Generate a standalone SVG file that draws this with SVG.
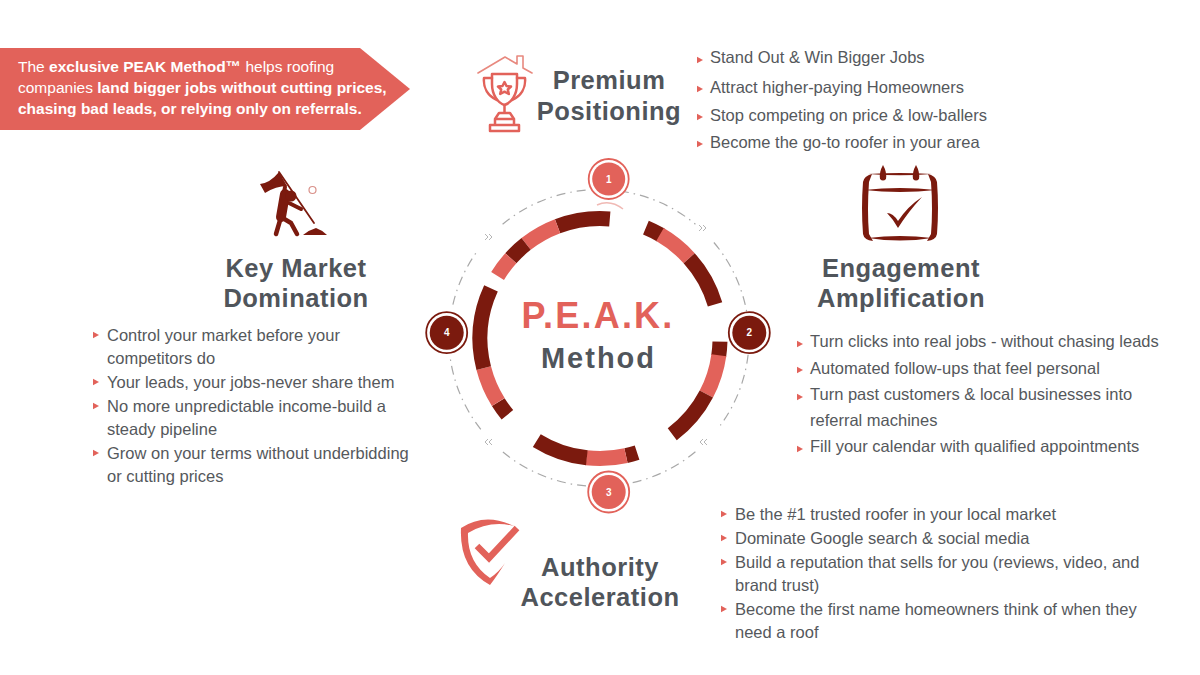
<svg xmlns="http://www.w3.org/2000/svg" width="1200" height="675" viewBox="0 0 1200 675">
<style>
text{font-family:"Liberation Sans",Arial,sans-serif}
.h{font-size:25.500px;font-weight:700;fill:#50555b;text-anchor:middle;letter-spacing:.5px}
.b{font-size:16.500px;fill:#55585c}
.t{fill:#e2625a}
.ban{font-size:15.500px;fill:#fff}
.ban tspan.s{font-weight:700}
.num{font-size:10px;font-weight:700;fill:#fff;text-anchor:middle}
.dk{fill:none;stroke:#7b1a0e;stroke-width:15}
.lt{fill:none;stroke:#e2625a;stroke-width:15}
.dd{fill:none;stroke:#a8a8a8;stroke-width:1.2;stroke-dasharray:9 5 1.5 5}
.ch{fill:none;stroke:#b5b5b5;stroke-width:1}
.ico{fill:none;stroke:#e2625a;stroke-width:2.5;stroke-linejoin:round;stroke-linecap:round}
.man{fill:none;stroke:#7b1a0e;stroke-linecap:round;stroke-linejoin:round}
</style>
<defs>
<path id="tri" class="t" d="M0-3.200L6 0L0 3.200Z"/>
<path id="fw" class="ch" d="M-4-3L-1 0L-4 3M0-3L3 0L0 3"/>
<path id="bk" class="ch" d="M4-3L1 0L4 3M0-3L-3 0L0 3"/>
</defs>
<rect width="1200" height="675" fill="#fff"/>

<g id="banner">
<polygon points="0,48 360,48 410,89 360,130 0,130" fill="#e2625a"/>
<text class="ban" x="18" y="72">The <tspan class="s">exclusive PEAK Method™</tspan> helps roofing</text>
<text class="ban" x="18" y="93">companies <tspan class="s">land bigger jobs without cutting prices,</tspan></text>
<text class="ban" x="18" y="114"><tspan class="s">chasing bad leads, or relying only on referrals.</tspan></text>
</g>

<g id="connectors">
<path class="dd" d="M619.900 191A150 148.500 0 0 1 695.400 224.200"/>
<path class="dd" d="M713.900 242.500A150 148.500 0 0 1 748.200 322.400"/>
<path class="dd" d="M748.100 354.800A150 148.500 0 0 1 720.400 425.300"/>
<path class="dd" d="M695.400 451.800A150 148.500 0 0 1 632.700 482.700"/>
<path class="dd" d="M586 485.900A150 148.500 0 0 1 502.600 451.800"/>
<path class="dd" d="M480.800 429.400A150 148.500 0 0 1 450 356.100"/>
<path class="dd" d="M452.900 304.600A150 148.500 0 0 1 476.100 252.800"/>
<path class="dd" d="M502.600 224.200A150 148.500 0 0 1 589.900 189.800"/>
<use href="#fw" x="703" y="228"/>
<use href="#bk" x="703" y="442"/>
<use href="#bk" x="488" y="442"/>
<use href="#fw" x="489" y="237"/>
</g>

<g id="ring">
<circle class="dk" cx="600" cy="338.500" r="120" pathLength="360" stroke-dasharray="25.400 360" transform="rotate(-110.700 600 338.500)"/>
<circle class="lt" cx="600" cy="338.500" r="120" pathLength="360" stroke-dasharray="17.300 360" transform="rotate(-128 600 338.500)"/>
<circle class="dk" cx="600" cy="338.500" r="120" pathLength="360" stroke-dasharray="10 360" transform="rotate(-138 600 338.500)"/>
<circle class="lt" cx="600" cy="338.500" r="120" pathLength="360" stroke-dasharray="10.600 360" transform="rotate(-148.600 600 338.500)"/>
<circle class="dk" cx="600" cy="338.500" r="120" pathLength="360" stroke-dasharray="8 360" transform="rotate(-67.500 600 338.500)"/>
<circle class="lt" cx="600" cy="338.500" r="120" pathLength="360" stroke-dasharray="18 360" transform="rotate(-60 600 338.500)"/>
<circle class="dk" cx="600" cy="338.500" r="120" pathLength="360" stroke-dasharray="25.500 360" transform="rotate(-42 600 338.500)"/>
<circle class="dk" cx="600" cy="338.500" r="120" pathLength="360" stroke-dasharray="7 360" transform="rotate(1.500 600 338.500)"/>
<circle class="lt" cx="600" cy="338.500" r="120" pathLength="360" stroke-dasharray="19.600 360" transform="rotate(8 600 338.500)"/>
<circle class="dk" cx="600" cy="338.500" r="120" pathLength="360" stroke-dasharray="25.400 360" transform="rotate(27.600 600 338.500)"/>
<circle class="dk" cx="600" cy="338.500" r="120" pathLength="360" stroke-dasharray="5.500 360" transform="rotate(72 600 338.500)"/>
<circle class="lt" cx="600" cy="338.500" r="120" pathLength="360" stroke-dasharray="19 360" transform="rotate(77.500 600 338.500)"/>
<circle class="dk" cx="600" cy="338.500" r="120" pathLength="360" stroke-dasharray="25.500 360" transform="rotate(96.300 600 338.500)"/>
<circle class="dk" cx="600" cy="338.500" r="120" pathLength="360" stroke-dasharray="7.500 360" transform="rotate(140.500 600 338.500)"/>
<circle class="lt" cx="600" cy="338.500" r="120" pathLength="360" stroke-dasharray="17.700 360" transform="rotate(148 600 338.500)"/>
<circle class="dk" cx="600" cy="338.500" r="120" pathLength="360" stroke-dasharray="39 360" transform="rotate(165.700 600 338.500)"/>
<path d="M597 205Q610 199 623 209" fill="none" stroke="#f0b9b4" stroke-width="1.500"/>
</g>

<g id="center-title">
<text x="598" y="328" text-anchor="middle" font-size="36" font-weight="700" fill="#e2625a" letter-spacing="2.200">P.E.A.K.</text>
<text x="598.500" y="368" text-anchor="middle" font-size="29" font-weight="700" fill="#50555b" letter-spacing="2">Method</text>
</g>

<g id="node-1">
<circle cx="608.700" cy="179" r="20" fill="#fff" stroke="#e2625a" stroke-width="1.800"/>
<circle cx="608.700" cy="179" r="16.500" fill="#e2625a"/>
<text class="num" x="608.700" y="182.500">1</text>
</g>
<g id="node-2">
<circle cx="749.300" cy="332.700" r="20.500" fill="#fff" stroke="#7b1a0e" stroke-width="1.800"/>
<circle cx="749.300" cy="332.700" r="17" fill="#7b1a0e"/>
<text class="num" x="749.300" y="336.200">2</text>
</g>
<g id="node-3">
<circle cx="608.700" cy="492" r="20.500" fill="#fff" stroke="#e2625a" stroke-width="1.800"/>
<circle cx="608.700" cy="492" r="17" fill="#e2625a"/>
<text class="num" x="608.700" y="495.500">3</text>
</g>
<g id="node-4">
<circle cx="446.700" cy="332.700" r="20.500" fill="#fff" stroke="#7b1a0e" stroke-width="1.800"/>
<circle cx="446.700" cy="332.700" r="17" fill="#7b1a0e"/>
<text class="num" x="446.700" y="336.200">4</text>
</g>

<g id="premium-positioning">
<g class="ico">
<path d="M478 73L505 57L517 64V56H523V68L532 73" stroke-width="1.600" stroke="#e8897f"/>
<path d="M492 74H517V84C517 95 511 103 504.500 105C498 103 492 95 492 84Z"/>
<path d="M492 78H484C483 88 488 96 497 100M517 78H525C526 88 521 96 512 100"/>
<path d="M504.500 82l2 4 4.500.5-3.200 3 1 4.500-4.300-2.300-4.300 2.300 1-4.500-3.200-3 4.500-.5Z"/>
<path d="M504.500 105V113M499 113H510L514 119H495ZM495 119V125H514V119M490 125H519V131H490Z"/>
</g>
<text class="h" x="609" y="89">Premium</text>
<text class="h" x="609" y="120">Positioning</text>
<use href="#tri" x="697" y="60"/><text class="b" x="710" y="63">Stand Out &amp; Win Bigger Jobs</text>
<use href="#tri" x="697" y="89"/><text class="b" x="710" y="92.500">Attract higher-paying Homeowners</text>
<use href="#tri" x="697" y="117"/><text class="b" x="710" y="120.500">Stop competing on price &amp; low-ballers</text>
<use href="#tri" x="697" y="144"/><text class="b" x="710" y="147.500">Become the go-to roofer in your area</text>
</g>

<g id="engagement-amplification">
<g fill="#7b1a0e">
<path d="M863 182Q864 176 872 174L869 182Q867 210 869 234L873 241Q864 240 863 234Q861 208 863 182Z"/>
<path d="M937 182Q936 176 928 174L931 182Q933 210 931 234L927 241Q936 240 937 234Q939 208 937 182Z"/>
<path d="M868 174Q900 172 932 174Q900 176.500 868 174Z"/>
<path d="M864 190Q900 186 936 190Q900 194 864 190Z"/>
<path d="M868 238Q900 234 932 238Q900 243 868 238Z"/>
<path d="M883 165Q887 172 886 179Q883 182 880 179Q879 172 883 165Z"/>
<path d="M916 165Q920 172 919 179Q916 182 913 179Q912 172 916 165Z"/>
<path d="M887 213Q893 213 898 221Q908 206 922 197Q908 212 898 228Q893 219 887 213Z"/>
</g>
<text class="h" x="901" y="277">Engagement</text>
<text class="h" x="901" y="307">Amplification</text>
<use href="#tri" x="797" y="344"/><text class="b" x="810" y="347">Turn clicks into real jobs - without chasing leads</text>
<use href="#tri" x="797" y="370"/><text class="b" x="810" y="373.500">Automated follow-ups that feel personal</text>
<use href="#tri" x="797" y="397"/><text class="b" x="810" y="400">Turn past customers &amp; local businesses into</text>
<text class="b" x="810" y="426">referral machines</text>
<use href="#tri" x="797" y="449"/><text class="b" x="810" y="452">Fill your calendar with qualified appointments</text>
</g>

<g id="authority-acceleration">
<path d="M461 528Q485 512 514 526Q490 520 468 533Q467 562 490 578Q499 572 505 563Q497 576 490 585Q459 568 461 528Z" fill="#e2625a"/>
<path d="M477 546L489 558L517 528" fill="none" stroke="#e2625a" stroke-width="6.500"/>
<text class="h" x="600" y="576">Authority</text>
<text class="h" x="600" y="606">Acceleration</text>
<use href="#tri" x="721" y="514"/><text class="b" x="735" y="519.500">Be the #1 trusted roofer in your local market</text>
<use href="#tri" x="721" y="538"/><text class="b" x="735" y="543.500">Dominate Google search &amp; social media</text>
<use href="#tri" x="721" y="562"/><text class="b" x="735" y="567.500">Build a reputation that sells for you (reviews, video, and</text>
<text class="b" x="735" y="590.500">brand trust)</text>
<use href="#tri" x="721" y="609"/><text class="b" x="735" y="614.500">Become the first name homeowners think of when they</text>
<text class="b" x="735" y="637.500">need a roof</text>
</g>

<g id="key-market-domination">
<path d="M260 184Q270 183 279 172L287 186Q276 186 265 193Z" fill="#7b1a0e"/>
<path class="man" d="M279 172L314 223" stroke-width="1.800"/>
<path class="man" d="M285 194L281 217" stroke-width="10"/>
<path class="man" d="M281 217L276 234M281 217L291 223L297 234" stroke-width="4.500"/>
<path class="man" d="M285 187L283 198M289 203L301 209" stroke-width="4"/>
<circle cx="291" cy="196" r="5.500" fill="#7b1a0e"/>
<path d="M303 235Q309 230 316 228Q322 230 327 235Z" fill="#7b1a0e"/>
<circle cx="312.500" cy="190" r="3.500" fill="none" stroke="#d9918a" stroke-width="1.200"/>
<text class="h" x="296" y="277">Key Market</text>
<text class="h" x="296" y="307">Domination</text>
<use href="#tri" x="93" y="335"/><text class="b" x="107" y="340.500">Control your market before your</text>
<text class="b" x="107" y="363.500">competitors do</text>
<use href="#tri" x="93" y="382"/><text class="b" x="107" y="387.500">Your leads, your jobs-never share them</text>
<use href="#tri" x="93" y="406"/><text class="b" x="107" y="411.500">No more unpredictable income-build a</text>
<text class="b" x="107" y="434.500">steady pipeline</text>
<use href="#tri" x="93" y="453"/><text class="b" x="107" y="458.500">Grow on your terms without underbidding</text>
<text class="b" x="107" y="481.500">or cutting prices</text>
</g>
</svg>
